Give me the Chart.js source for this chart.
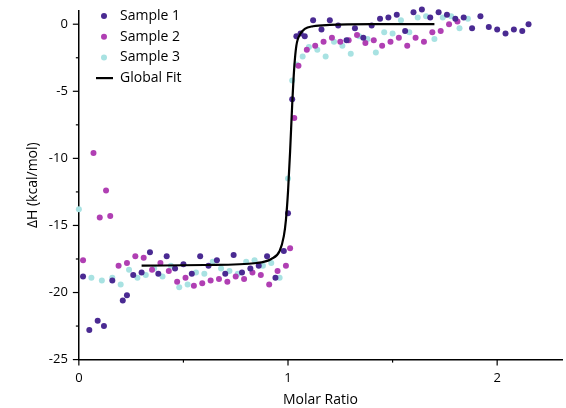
<!DOCTYPE html>
<html><head><meta charset="utf-8">
<script src="https://cdn.jsdelivr.net/npm/chart.js@4"></script>
<style>html,body{margin:0;background:#fff}#w{width:566px;height:408px}</style>
</head><body><div id="w"><canvas id="c"></canvas></div>
<script>
const s1x=[0.02,0.05,0.09,0.12,0.16,0.21,0.23,0.26,0.30,0.34,0.38,0.42,0.46,0.50,0.54,0.58,0.62,0.66,0.70,0.74,0.78,0.82,0.86,0.90,0.94,0.98,1.00,1.02,1.04,1.06,1.08,1.12,1.16,1.20,1.24,1.28,1.32,1.36,1.40,1.44,1.48,1.52,1.56,1.60,1.64,1.68,1.72,1.76,1.80,1.84,1.88,1.92,1.96,2.00,2.04,2.08,2.12,2.15];
const s1y=[-18.8,-22.8,-22.1,-22.5,-19.1,-20.6,-20.2,-18.7,-18.5,-17.0,-18.6,-17.3,-18.2,-17.9,-18.6,-17.3,-18.0,-17.6,-18.6,-17.2,-18.5,-18.2,-18.0,-17.3,-18.9,-16.9,-14.1,-5.6,-0.9,-0.7,-0.9,0.3,-0.4,0.3,-0.1,-1.2,-0.3,-1.0,-0.1,0.4,0.5,0.7,-0.5,0.9,1.1,0.5,0.9,0.7,0.4,0.5,-0.3,0.6,-0.2,-0.4,-0.7,-0.4,-0.5,0.0];
const s2x=[0.02,0.07,0.10,0.13,0.15,0.19,0.23,0.27,0.31,0.35,0.39,0.43,0.47,0.51,0.55,0.59,0.63,0.67,0.71,0.75,0.79,0.83,0.87,0.91,0.95,0.99,1.01,1.03,1.05,1.09,1.13,1.17,1.21,1.25,1.29,1.33,1.37,1.41,1.45,1.49,1.53,1.57,1.61,1.65,1.69,1.73,1.77,1.81];
const s2y=[-17.6,-9.6,-14.4,-12.4,-14.3,-18.0,-17.8,-17.3,-17.4,-18.3,-17.8,-18.4,-19.2,-18.9,-19.5,-19.3,-19.1,-19.0,-19.2,-18.8,-19.0,-18.5,-18.7,-19.4,-18.4,-18.0,-16.7,-7.0,-3.1,-1.9,-1.6,-1.3,-1.0,-1.3,-1.2,-0.8,-1.4,-1.2,-1.6,-1.3,-1.0,-1.6,-1.0,-1.3,-0.6,-0.5,0.0,0.2];
const s3x=[0.0,0.06,0.11,0.16,0.20,0.24,0.28,0.32,0.36,0.40,0.44,0.48,0.52,0.56,0.60,0.64,0.68,0.72,0.76,0.80,0.84,0.88,0.92,0.96,1.00,1.02,1.04,1.07,1.10,1.14,1.18,1.22,1.26,1.30,1.34,1.38,1.42,1.46,1.50,1.54,1.58,1.62,1.66,1.70,1.74,1.78,1.82,1.86];
const s3y=[-13.8,-18.9,-19.1,-18.9,-19.4,-18.3,-18.9,-18.7,-18.2,-18.8,-18.0,-19.6,-19.4,-18.5,-18.6,-17.7,-18.2,-18.4,-18.6,-17.7,-17.6,-18.0,-17.8,-18.9,-11.5,-4.2,-3.0,-2.4,-1.7,-1.9,-2.4,-1.3,-1.6,-2.2,-0.9,-1.1,-2.1,-0.6,-0.7,0.3,-0.6,0.5,0.6,-1.1,0.5,0.6,-0.3,0.4];
const fitx=[0.30,0.60,0.85,0.92,0.96,0.98,0.99,1.00,1.01,1.02,1.03,1.04,1.06,1.08,1.12,1.20,1.40,1.70];
const fity=[-18.0,-17.95,-17.8,-17.5,-16.9,-15.8,-14.6,-12.5,-9.5,-6.0,-3.2,-1.6,-0.7,-0.35,-0.15,-0.05,0,0];
const labels=["Sample 1","Sample 2","Sample 3","Global Fit"];
const colors=["#4a2a92","#b03fb3","#a8e2e2","#000000"];
const xTicks=[0,1,2];
const yTicks=[-25,-20,-15,-10,-5,0];
const pts=(xs,ys)=>xs.map((x,i)=>({x,y:ys[i]}));
const F="'Open Sans', sans-serif";
const legendPlugin={id:'lg',afterDraw(ch){const c=ch.ctx;c.save();c.font="14px "+F;c.textBaseline='middle';
labels.forEach((l,i)=>{const y=16+i*20.7;c.fillStyle=colors[i];
if(i<3){c.beginPath();c.arc(104,y,3,0,Math.PI*2);c.fill();}else{c.strokeStyle='#000';c.lineWidth=2.2;c.beginPath();c.moveTo(96,y);c.lineTo(113,y);c.stroke();}
c.fillStyle='#000';c.fillText(l,120,y);});c.restore();}};
new Chart(document.getElementById('c'),{type:'scatter',
data:{datasets:[
{label:labels[0],data:pts(s1x,s1y),backgroundColor:colors[0],pointRadius:3,borderWidth:0,clip:false},
{label:labels[1],data:pts(s2x,s2y),backgroundColor:colors[1],pointRadius:3,borderWidth:0,clip:false},
{label:labels[2],data:pts(s3x,s3y),backgroundColor:colors[2],pointRadius:3,borderWidth:0,clip:false},
{label:labels[3],data:pts(fitx,fity),showLine:true,borderColor:'#000',borderWidth:2.2,pointRadius:0,tension:0.4,cubicInterpolationMode:'monotone',order:-1}
]},
options:{responsive:true,maintainAspectRatio:false,animation:false,
layout:{padding:{top:0,right:0,left:21,bottom:0}},
plugins:{legend:{display:false},tooltip:{enabled:false}},
scales:{
x:{type:'linear',min:0,max:2.31,border:{color:'#000',width:1.5},grid:{display:false},
afterBuildTicks(a){a.ticks=xTicks.map(v=>({value:v}));},
ticks:{color:'#000',font:{family:F,size:13}},
title:{display:true,text:'Molar Ratio',color:'#000',padding:{top:2,bottom:0},font:{family:F,size:14}}},
y:{type:'linear',min:-25,max:1.0,border:{color:'#000',width:1.5},grid:{display:false},
afterBuildTicks(a){a.ticks=yTicks.map(v=>({value:v}));},
ticks:{color:'#000',font:{family:F,size:13}},
title:{display:true,text:'ΔH (kcal/mol)',color:'#000',font:{family:F,size:14}}}
}},
plugins:[legendPlugin,{id:'tk',afterDraw(ch){const c=ch.ctx,x=ch.scales.x,y=ch.scales.y;c.save();c.strokeStyle='#000';c.lineWidth=1.2;
[-25,-22.5,-20,-17.5,-15,-12.5,-10,-7.5,-5,-2.5,0].forEach(v=>{const p=y.getPixelForValue(v),L=(v%5===0)?6:3;c.beginPath();c.moveTo(x.left,p);c.lineTo(x.left-L,p);c.stroke();});
[0,0.5,1,1.5,2].forEach(v=>{const p=x.getPixelForValue(v),L=(v%1===0)?6:3;c.beginPath();c.moveTo(p,y.bottom);c.lineTo(p,y.bottom+L);c.stroke();});c.restore();}}]
});
</script></body></html>
